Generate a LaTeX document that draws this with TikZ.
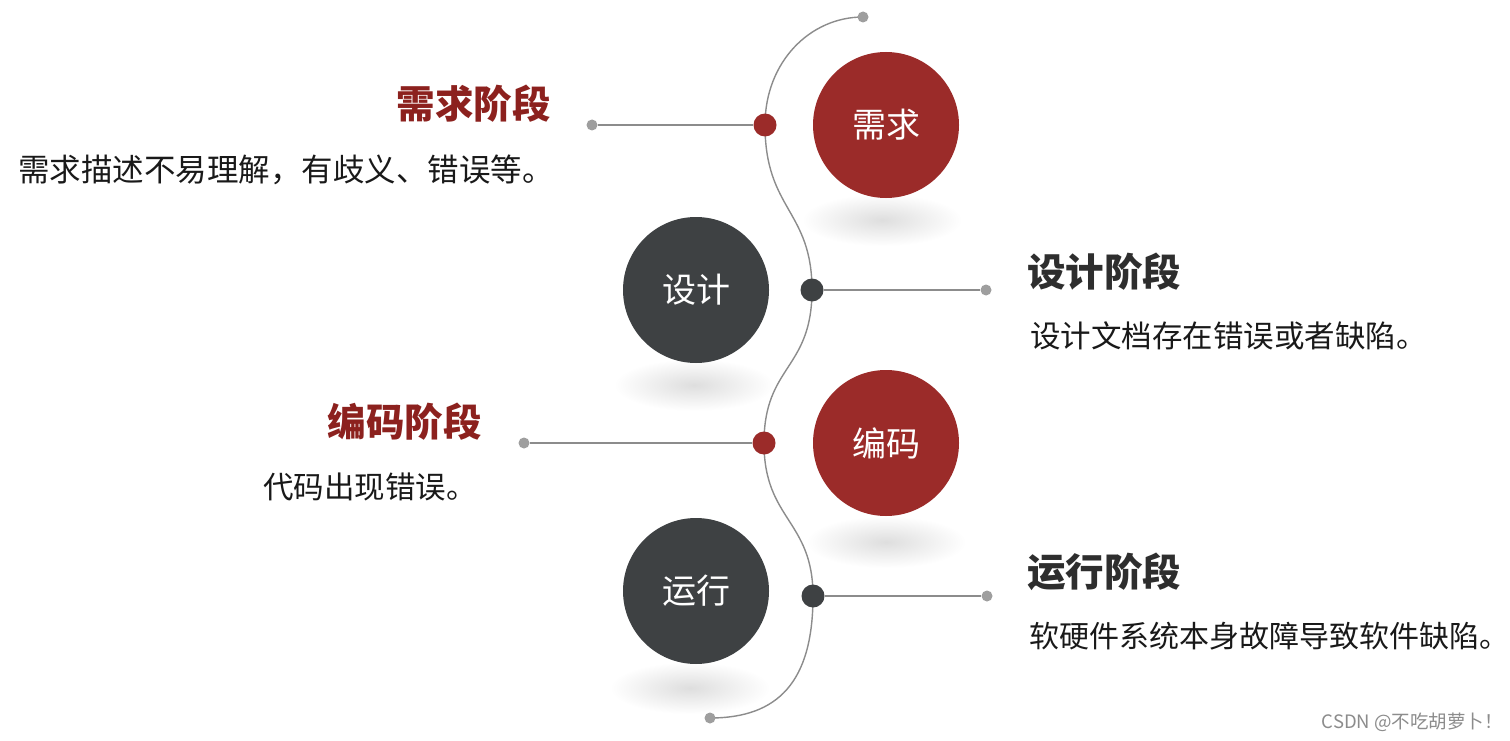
\documentclass[tikz,border=0pt]{standalone}
\usepackage{fontspec}
\newfontfamily\cjk{Noto Sans CJK SC}
\usetikzlibrary{backgrounds}
\definecolor{cred}{HTML}{9B2B29}
\definecolor{cdark}{HTML}{3E4143}
\definecolor{tred}{HTML}{8C211E}
\definecolor{tdark}{HTML}{2E2E2E}
\definecolor{lgray}{HTML}{8C8C8C}
\definecolor{dgray}{HTML}{9E9E9E}
\tikzset{
  bigc/.style={circle, minimum size=146pt, inner sep=0pt, text=white, font=\cjk\fontsize{34}{36}\selectfont},
  redc/.style={bigc, fill=cred},
  darkc/.style={bigc, fill=cdark},
  dot/.style={circle, minimum size=23pt, inner sep=0pt},
  reddot/.style={dot, fill=cred},
  darkdot/.style={dot, fill=cdark},
  enddot/.style={circle, minimum size=11pt, inner sep=0pt, fill=dgray},
  conn/.style={draw=lgray, line width=1.4pt},
  title/.style={inner sep=0pt, font=\cjk\bfseries\fontsize{38.5}{40}\selectfont},
  desc/.style={inner sep=0pt, anchor=west, text=black!90, font=\cjk\fontsize{30.5}{34}\selectfont},
  shadowe/.style={inner color=black!13, outer color=white}
}
\begin{document}
\begin{tikzpicture}[x=1pt,y=-1pt]
\useasboundingbox (0,0) rectangle (1510,741);
% big circles
\node[redc]  (c1) at (886,125) {需求};
\node[darkc] (c2) at (696,290) {设计};
\node[redc]  (c3) at (886,443) {编码};
\node[darkc] (c4) at (696,591) {运行};
% dots on the curve
\node[reddot]  (d1) at (765,125) {};
\node[darkdot] (d2) at (812,290) {};
\node[reddot]  (d3) at (764,443) {};
\node[darkdot] (d4) at (813,596) {};
% end dots
\node[enddot] (top) at (863,17) {};
\node[enddot] (bot) at (710,718) {};
\node[enddot] (e1) at (592,125) {};
\node[enddot] (e2) at (986,290) {};
\node[enddot] (e3) at (524,443) {};
\node[enddot] (e4) at (987,596) {};
% background, shadows and connectors
\begin{pgfonlayer}{background}
\fill[white] (0,0) rectangle (1510,741);
\shade[shadowe] (882,220) ellipse [x radius=80, y radius=26];
\shade[shadowe] (694,385) ellipse [x radius=80, y radius=26];
\shade[shadowe] (886,542) ellipse [x radius=80, y radius=26];
\shade[shadowe] (690,688) ellipse [x radius=80, y radius=26];
\draw[conn] (top.center) .. controls (810,17) and (765,62) .. (d1.center);
\draw[conn] (d1.center) .. controls (765,210) and (812,210) .. (d2.center);
\draw[conn] (d2.center) .. controls (812,370) and (764,365) .. (d3.center);
\draw[conn] (d3.center) .. controls (764,520) and (813,520) .. (d4.center);
\draw[conn] (d4.center) .. controls (813,682) and (778,718) .. (bot.center);
\draw[conn] (e1) -- (d1);
\draw[conn] (d2) -- (e2);
\draw[conn] (e3) -- (d3);
\draw[conn] (d4) -- (e4);
\end{pgfonlayer}
% texts
\node[title, text=tred, anchor=east] (t1) at (551,104) {需求阶段};
\node[desc, font=\cjk\fontsize{31.5}{34}\selectfont] (s1) at (18,170) {需求描述不易理解，有歧义、错误等。};
\node[title, text=tdark, anchor=west] (t2) at (1027,272) {设计阶段};
\node[desc] (s2) at (1030,336) {设计文档存在错误或者缺陷。};
\node[title, text=tred, anchor=east] (t3) at (482,422) {编码阶段};
\node[desc] (s3) at (263,487) {代码出现错误。};
\node[title, text=tdark, anchor=west] (t4) at (1027,572) {运行阶段};
\node[desc, font=\cjk\fontsize{30}{34}\selectfont] (s4) at (1029,636) {软硬件系统本身故障导致软件缺陷。};
\node[inner sep=0pt, anchor=east, text=black!45, font=\cjk\fontsize{18.5}{20}\selectfont] (wm) at (1503,722) {CSDN @不吃胡萝卜！};
\end{tikzpicture}
\end{document}
